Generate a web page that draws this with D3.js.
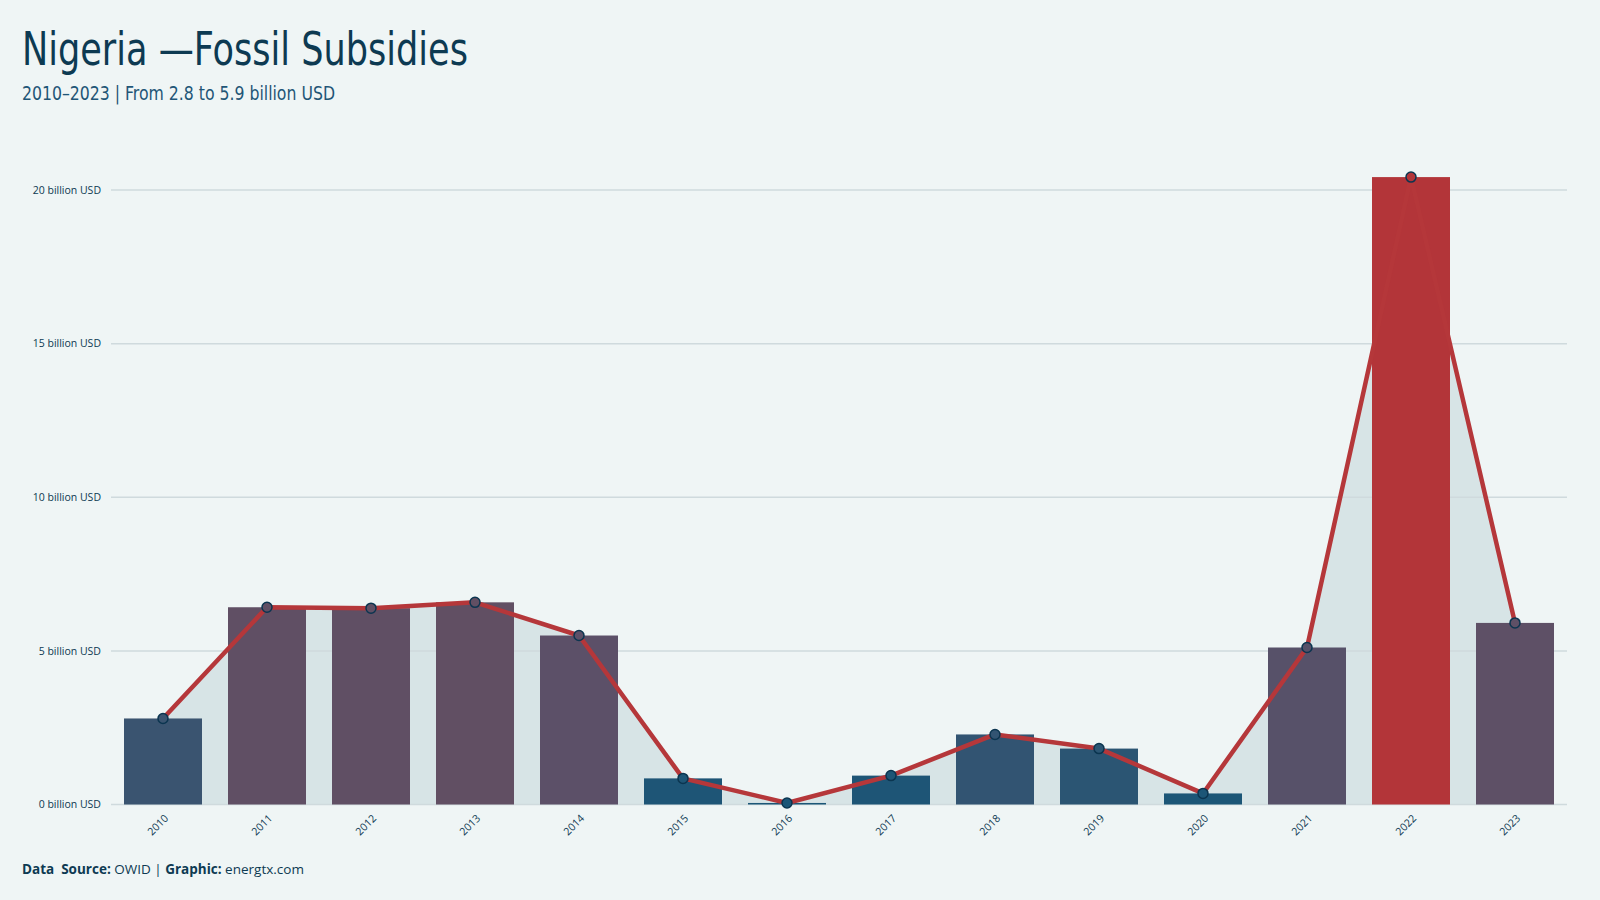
<!DOCTYPE html>
<html>
<head>
<meta charset="utf-8">
<script src="https://cdn.jsdelivr.net/npm/d3@7/dist/d3.min.js"></script>
<style>
  html, body { margin: 0; padding: 0; background: #eff5f5; }
  svg { display: block; }
</style>
</head>
<body>
<svg id="chart" width="1600" height="900"></svg>
<script>
const years = ["2010","2011","2012","2013","2014","2015","2016","2017","2018","2019","2020","2021","2022","2023"];
const subsidies = [2.80, 6.42, 6.39, 6.58, 5.50, 0.85, 0.05, 0.94, 2.28, 1.82, 0.36, 5.11, 20.42, 5.91];
const yTicks = [0, 5, 10, 15, 20];
const titleText = "Nigeria \u2014Fossil Subsidies";
const subtitleText = "2010\u20132023 | From 2.8 to 5.9 billion USD";

const data = years.map((y, i) => ({ year: y, value: subsidies[i] }));

const svg = d3.select("#chart");
const W = 1600, H = 900;
const plotLeft = 111, plotRight = 1567, plotTop = 190, plotBottom = 804.5;

svg.append("rect").attr("width", W).attr("height", H).attr("fill", "#eff5f5");

const x = d3.scaleBand().domain(years).range([plotLeft, plotRight]).paddingInner(0.25).paddingOuter(0.125);
const y = d3.scaleLinear().domain([0, 20]).range([plotBottom, plotTop]);

const maxVal = d3.max(subsidies);
const colorScale = d3.scaleLinear()
  .domain([0, 1, 2.8, 5.5, 6.6])
  .range(["#1b5677", "#1e5576", "#3a5470", "#5c5068", "#614f63"])
  .clamp(true);
const colorOf = v => v === maxVal ? "#b33539" : colorScale(v);

const cx = d => x(d.year) + x.bandwidth() / 2;

// area
svg.append("path")
  .datum(data)
  .attr("fill", "#d7e4e6")
  .attr("d", d3.area().x(cx).y0(y(0)).y1(d => y(d.value)));

// gridlines
svg.append("g").selectAll("line").data(yTicks).join("line")
  .attr("x1", plotLeft).attr("x2", plotRight)
  .attr("y1", d => y(d)).attr("y2", d => y(d))
  .attr("stroke", "#cfdadd").attr("stroke-width", 1.5);

// y labels
svg.append("g").selectAll("text").data(yTicks).join("text")
  .attr("x", 101).attr("y", d => y(d)).attr("dy", "0.35em")
  .attr("text-anchor", "end")
  .attr("font-family", "'Open Sans', sans-serif")
  .attr("font-size", 10.5)
  .attr("fill", "#0d3a52")
  .text(d => `${d} billion USD`);

// bars
svg.append("g").selectAll("rect").data(data).join("rect")
  .attr("x", d => x(d.year))
  .attr("width", x.bandwidth())
  .attr("y", d => y(d.value))
  .attr("height", d => y(0) - y(d.value))
  .attr("fill", d => colorOf(d.value));

// line
svg.append("path")
  .datum(data)
  .attr("fill", "none")
  .attr("stroke", "#b5373a")
  .attr("stroke-width", 4.5)
  .attr("stroke-linejoin", "round")
  .attr("d", d3.line().x(cx).y(d => y(d.value)));

// points
svg.append("g").selectAll("circle").data(data).join("circle")
  .attr("cx", cx).attr("cy", d => y(d.value)).attr("r", 5)
  .attr("fill", d => colorOf(d.value))
  .attr("stroke", "#0b3550").attr("stroke-width", 1.5);

// x labels
svg.append("g").selectAll("text").data(years).join("text")
  .attr("transform", d => `translate(${x(d) + x.bandwidth() / 2 + 6},${819}) rotate(-45)`)
  .attr("text-anchor", "end")
  .attr("font-family", "'Open Sans', sans-serif")
  .attr("font-size", 10.5)
  .attr("fill", "#0d3a52")
  .text(d => d);

// title
svg.append("text")
  .attr("x", 22).attr("y", 65)
  .attr("font-family", "'Liberation Sans Narrow', 'DejaVu Sans Condensed', sans-serif")
  .attr("font-size", 46)
  .attr("fill", "#0d3a52")
  .attr("textLength", 446).attr("lengthAdjust", "spacingAndGlyphs")
  .text(titleText);

svg.append("text")
  .attr("x", 22).attr("y", 100)
  .attr("font-family", "'Liberation Sans Narrow', 'DejaVu Sans Condensed', sans-serif")
  .attr("font-size", 20)
  .attr("fill", "#1f5677")
  .attr("textLength", 313).attr("lengthAdjust", "spacingAndGlyphs")
  .text(subtitleText);

// footer
const foot = svg.append("text")
  .attr("x", 22).attr("y", 874)
  .attr("font-family", "'Open Sans', sans-serif")
  .attr("font-size", 13.5)
  .attr("fill", "#0d3a52");
foot.append("tspan").attr("font-weight", 700).text("Data\u00a0 Source:");
foot.append("tspan").text(" OWID | ");
foot.append("tspan").attr("font-weight", 700).text("Graphic:");
foot.append("tspan").text(" energtx.com");
</script>
</body>
</html>
